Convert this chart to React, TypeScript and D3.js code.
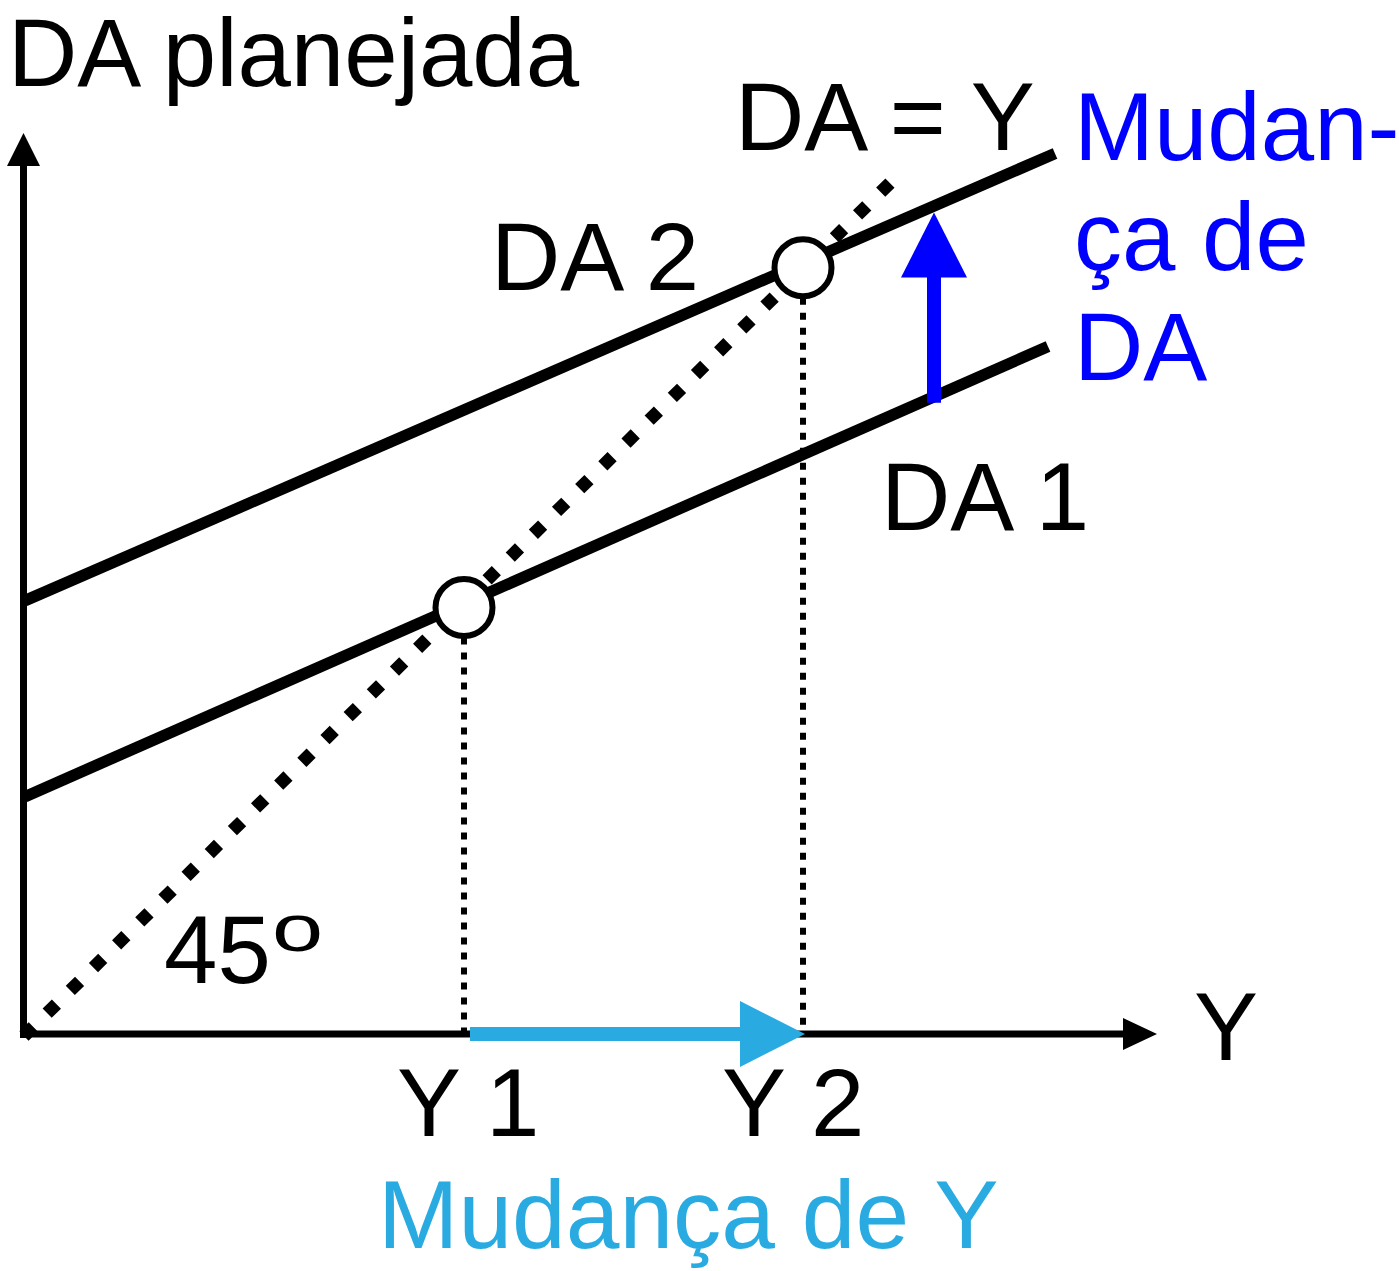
import React from "react";
import * as d3 from "d3";

// ---- data (model units: Y = income, DA = planned aggregate demand) ----
const da1Line = [ { Y: 0.1, DA: 24.3 }, { Y: 102.4, DA: 70.0 } ];
const da2Line = [ { Y: 0.1, DA: 44.2 }, { Y: 103.1, DA: 89.6 } ];
const line45 = [ { Y: 0, DA: 0 }, { Y: 87.8, DA: 87.8 } ];
const equilibria = [ { Y: 44.0, DA: 43.5 }, { Y: 77.9, DA: 78.0 } ];
const daShift = { Y: 91.0, from: 64.3, to: 83.6 };
const yShift = { DA: 0.2, from: 44.6, to: 78.1 };
const yTickLabels = [ { Y: 37.3, text: "Y 1" }, { Y: 69.8, text: "Y 2" } ];

const W = 1399, H = 1271;
const x = d3.scaleLinear().domain([0, 100]).range([24, 1024]);
const y = d3.scaleLinear().domain([0, 100]).range([1036, 51]);

const FONT = "'Liberation Sans', Arial, Helvetica, sans-serif";
const FS = 96;
const BLUE = "#0000FF";
const LIGHT = "#29ABE2";

export default function App() {
  const line = d3.line<{ Y: number; DA: number }>().x(d => x(d.Y)).y(d => y(d.DA));
  const ox = 23.5, oy = 1034;

  const bx = x(daShift.Y), bBot = y(daShift.from), bTip = y(daShift.to);
  const headL = 65, headHW = 33;
  const hy = oy, hStart = x(yShift.from), hTip = x(yShift.to);

  return (
    <svg width={W} height={H} style={{ position: "absolute", left: 0, top: 0, background: "#fff" }}>
      {/* axes */}
      <line x1={ox} y1={oy + 4} x2={ox} y2={160} stroke="#000" strokeWidth={7} />
      <path d={`M${ox},133 L${ox - 16.5},166 L${ox + 16.5},166 Z`} fill="#000" />
      <line x1={ox - 3.5} y1={oy} x2={1126} y2={oy} stroke="#000" strokeWidth={7} />
      <path d={`M1157,${oy} L1123,${oy - 16} L1123,${oy + 16} Z`} fill="#000" />

      {/* 45 degree dotted line */}
      <path d={line(line45) || ""} stroke="#000" strokeWidth={13} strokeDasharray="13 19.5" fill="none" />

      {/* DA lines */}
      <path d={line(da1Line) || ""} stroke="#000" strokeWidth={11.5} fill="none" />
      <path d={line(da2Line) || ""} stroke="#000" strokeWidth={11.5} fill="none" />

      {/* vertical dotted guides */}
      {equilibria.map((e, i) => (
        <line key={"g" + i} x1={x(e.Y)} x2={x(e.Y)} y1={y(e.DA) + 30} y2={oy - 3}
          stroke="#000" strokeWidth={6} strokeDasharray="7 8" />
      ))}

      {/* equilibrium circles */}
      {equilibria.map((e, i) => (
        <circle key={"c" + i} cx={x(e.Y)} cy={y(e.DA)} r={28.5} fill="#fff" stroke="#000" strokeWidth={6} />
      ))}

      {/* light blue arrow */}
      <line x1={hStart} x2={hTip - headL + 1} y1={hy} y2={hy} stroke={LIGHT} strokeWidth={14} />
      <path d={`M${hTip},${hy} L${hTip - headL},${hy - headHW} L${hTip - headL},${hy + headHW} Z`} fill={LIGHT} />

      {/* blue arrow */}
      <line x1={bx} x2={bx} y1={bBot} y2={bTip + headL - 1} stroke={BLUE} strokeWidth={14} />
      <path d={`M${bx},${bTip} L${bx - headHW},${bTip + headL} L${bx + headHW},${bTip + headL} Z`} fill={BLUE} />

      {/* texts */}
      <g fontFamily={FONT} fontSize={FS} fill="#000">
        <text x={8} y={86}>DA planejada</text>
        <text x={735} y={150}>DA = Y</text>
        <text x={491} y={290}>DA 2</text>
        <text x={881} y={530}>DA 1</text>
        <text x={164} y={983}>45</text>
        <text transform="translate(272,951) scale(1,0.72)" fontSize={92}>o</text>
        <text x={1194} y={1060}>Y</text>
        {yTickLabels.map((t, i) => (
          <text key={"t" + i} x={x(t.Y)} y={1136}>{t.text}</text>
        ))}
      </g>
      <g fontFamily={FONT} fontSize={FS} fill={BLUE}>
        <text x={1074} y={160}>Mudan-</text>
        <text x={1074} y={270}>ça de</text>
        <text x={1074} y={380}>DA</text>
      </g>
      <text x={378} y={1248} fontFamily={FONT} fontSize={96.5} fill={LIGHT}>Mudança de Y</text>
    </svg>
  );
}
